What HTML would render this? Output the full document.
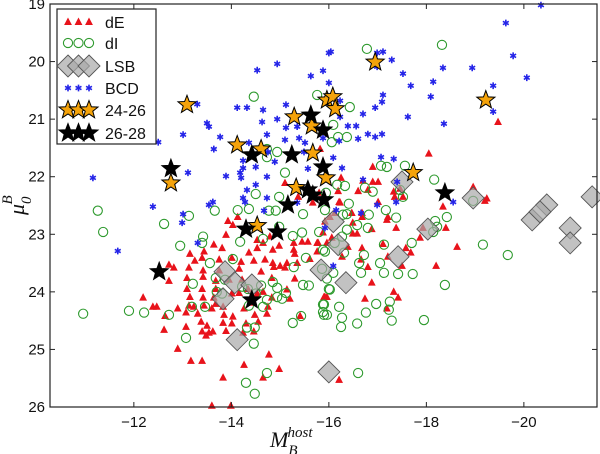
<!DOCTYPE html>
<html><head><meta charset="utf-8"><style>
html,body{margin:0;padding:0;background:#fff;}
svg{display:block;font-family:"Liberation Sans","DejaVu Sans",sans-serif;}
</style></head><body>
<svg id="chart" width="600" height="454" viewBox="0 0 600 454" xmlns="http://www.w3.org/2000/svg">
<g id="marks"></g>
<g id="axes"></g>
<g id="legend"></g>
</svg>
<script>
const xTicks=[-12,-14,-16,-18,-20];
const yTicks=[19,20,21,22,23,24,25,26];
const dE_x=[-14.13,-13.93,-14.03,-13.89,-14.53,-14.65,-14.79,-15.28,-15.28,-15.45,-15.57,-15.76,-15.88,-13.64,-13.81,-13.44,-13.15,-14.36,-14.53,-14.85,-14.98,-15.30,-15.76,-13.25,-13.40,-13.75,-14.01,-14.20,-14.46,-14.69,-14.85,-15.14,-15.35,-15.61,-12.72,-12.82,-13.13,-13.42,-13.75,-14.16,-14.61,-14.87,-15.00,-15.10,-12.72,-13.09,-13.42,-13.68,-13.95,-14.22,-14.83,-15.30,-13.09,-13.40,-13.68,-14.01,-14.16,-14.34,-14.65,-15.14,-12.19,-13.15,-13.42,-13.64,-14.53,-14.83,-15.20,-12.39,-12.47,-12.90,-13.13,-13.23,-13.44,-13.68,-13.83,-14.42,-14.75,-12.64,-13.07,-13.31,-13.60,-13.85,-14.03,-14.26,-14.48,-14.73,-15.41,-13.07,-13.38,-13.50,-13.83,-14.01,-14.30,-14.55,-12.62,-13.40,-13.54,-13.48,-13.62,-13.89,-14.24,-14.46,-12.90,-14.77,-13.17,-13.40,-14.26,-14.98,-13.83,-14.65,-13.60,-13.99,-15.92,-15.78,-16.23,-16.12,-16.02,-15.92,-16.47,-16.68,-16.49,-16.68,-17.21,-17.19,-17.38,-16.88,-16.49,-16.58,-15.96,-16.06,-16.39,-16.68,-17.11,-17.58,-17.68,-16.27,-17.21,-16.66,-16.80,-17.50,-16.88,-15.90,-15.96,-16.74,-17.33,-17.42,-17.19,-17.87,-17.93,-18.40,-18.34,-18.63,-18.20,-19.20,-16.21,-18.05,-16.90,-16.25,-16.70,-16.90,-17.01,-16.60,-16.19,-16.80,-17.33,-17.46,-17.52,-17.35,-15.82,-16.21,-17.01,-19.47,-18.96,-19.24,-15.10,-15.37,-15.80,-15.67];
const dE_y=[22.70,22.77,22.84,23.01,23.10,23.15,23.04,23.15,23.27,23.13,23.13,23.15,22.97,23.18,23.24,23.30,23.34,23.32,23.24,23.27,23.20,23.34,23.30,23.46,23.41,23.44,23.41,23.48,23.46,23.44,23.50,23.50,23.50,23.43,23.53,23.58,23.58,23.63,23.63,23.60,23.65,23.57,23.55,23.58,23.81,23.76,23.74,23.81,23.79,23.79,23.76,23.77,23.95,23.95,23.95,24.03,24.02,23.95,24.00,23.96,24.10,24.09,24.10,24.10,24.03,24.10,24.12,24.26,24.26,24.29,24.24,24.26,24.24,24.21,24.26,24.19,24.26,24.42,24.36,24.38,24.29,24.40,24.43,24.29,24.40,24.38,24.42,24.61,24.52,24.59,24.54,24.55,24.55,24.52,24.66,24.69,24.71,24.76,24.69,24.68,24.71,24.69,24.99,25.09,25.20,25.20,25.27,25.34,25.49,25.49,25.98,25.98,24.09,23.15,22.45,22.63,22.70,22.78,22.63,22.63,22.80,22.70,22.70,22.75,22.89,22.91,22.99,22.99,23.15,23.06,23.22,23.24,23.17,23.24,23.32,23.39,23.39,23.44,23.57,23.55,23.84,24.09,24.09,24.12,24.00,24.10,24.29,23.06,22.89,22.89,22.52,23.22,23.55,22.42,25.53,21.60,21.83,22.02,22.07,22.09,22.09,22.25,22.25,22.23,22.26,22.21,22.35,22.35,21.52,22.44,22.44,21.05,22.18,22.38,22.11,22.35,22.28,22.45];
const dI_x=[-11.26,-11.37,-12.62,-13.13,-13.66,-14.13,-14.36,-14.77,-14.91,-15.47,-14.98,-15.45,-15.80,-15.26,-13.42,-13.40,-12.95,-14.18,-14.65,-13.56,-14.03,-15.28,-15.53,-15.92,-15.86,-13.68,-13.87,-13.21,-14.22,-14.61,-14.85,-14.94,-15.12,-15.47,-15.59,-16.00,-14.34,-13.70,-13.81,-14.50,-14.73,-14.94,-15.04,-13.19,-13.46,-14.36,-10.96,-11.90,-12.21,-12.72,-14.65,-15.88,-15.88,-15.96,-15.43,-15.26,-14.32,-14.48,-13.07,-14.46,-14.73,-14.30,-14.48,-15.92,-16.41,-16.29,-16.37,-16.82,-17.38,-17.17,-16.58,-16.37,-16.80,-16.27,-16.12,-15.88,-16.31,-16.72,-16.62,-16.66,-17.05,-17.13,-17.42,-17.72,-17.13,-17.70,-18.18,-18.22,-18.14,-18.42,-19.16,-19.67,-18.38,-16.02,-15.96,-16.09,-15.90,-15.90,-16.21,-16.27,-16.25,-16.58,-16.76,-16.97,-17.25,-17.23,-17.29,-17.95,-16.60,-18.96,-16.78,-18.32,-16.43,-16.09,-16.19,-16.37,-16.06,-17.07,-17.19,-17.56,-18.16,-16.74,-16.90,-17.46,-17.52,-16.17,-16.33,-14.46,-14.73,-14.94,-14.73,-15.10,-14.50,-14.98,-15.94,-15.76];
const dI_y=[22.59,22.96,22.82,22.68,22.59,22.58,22.56,22.59,22.59,22.65,22.87,22.97,22.96,23.03,23.04,23.15,23.20,23.13,23.08,23.50,23.43,23.57,23.41,23.30,23.60,23.76,23.79,23.86,23.91,23.89,23.83,23.93,24.02,23.88,23.89,23.95,23.95,24.00,24.03,24.03,24.14,24.09,24.12,24.26,24.26,24.24,24.38,24.33,24.36,24.40,24.26,24.22,24.35,24.40,24.42,24.54,24.62,24.62,24.80,24.90,25.41,25.58,25.77,22.58,22.47,22.66,22.65,22.66,22.71,22.58,22.84,22.92,22.89,23.04,23.15,23.27,23.32,23.36,23.50,23.67,23.50,23.67,23.69,23.69,23.18,23.15,22.77,22.87,22.96,22.70,23.18,23.36,23.88,23.96,23.77,23.67,24.22,24.40,24.26,24.45,24.61,24.55,24.36,24.21,24.17,24.31,24.50,24.49,25.41,22.42,19.78,19.71,20.79,21.10,21.31,21.31,21.40,21.81,21.83,21.81,22.05,22.19,22.26,22.23,22.35,22.14,22.16,20.61,21.52,21.57,21.66,21.93,22.30,22.35,22.28,20.58];
const lsb_x=[-13.87,-14.07,-14.42,-13.83,-14.12,-15.84,-16.00,-16.09,-16.19,-16.35,-17.42,-18.03,-17.50,-18.96,-20.17,-20.47,-20.33,-20.95,-20.95,-21.40];
const lsb_y=[23.65,23.84,23.88,24.12,24.83,23.62,25.39,22.78,23.18,23.84,23.39,22.91,22.09,22.37,22.75,22.49,22.61,22.89,23.15,22.35];
const bcd_x=[-14.94,-14.53,-13.30,-14.12,-14.32,-14.65,-15.12,-13.50,-13.54,-13.01,-13.77,-12.50,-13.64,-14.36,-14.63,-14.94,-15.12,-15.35,-14.73,-15.10,-15.39,-15.51,-15.49,-14.75,-14.89,-14.24,-14.24,-14.50,-13.11,-13.89,-14.18,-14.20,-14.73,-15.57,-11.16,-14.50,-14.32,-14.24,-14.28,-13.62,-12.39,-14.73,-16.00,-15.88,-15.63,-16.00,-15.88,-20.35,-19.63,-19.78,-20.06,-16.04,-16.99,-17.11,-16.99,-17.29,-17.52,-17.68,-18.14,-18.34,-18.94,-19.37,-19.37,-18.09,-17.62,-18.36,-17.11,-17.09,-16.95,-16.70,-16.23,-16.23,-16.39,-16.56,-16.80,-16.95,-17.09,-16.60,-16.21,-16.09,-17.07,-17.33,-16.27,-16.70,-17.40,-17.38,-18.55,-16.99,-13.01,-12.99,-13.54,-13.31,-11.67,-14.67,-15.35,-15.92,-16.15,-16.66,-16.09];
const bcd_y=[20.04,20.15,20.74,20.80,20.80,20.84,20.75,21.07,21.13,21.27,21.31,21.40,21.52,21.41,21.05,21.00,21.15,21.13,21.27,21.36,21.33,21.41,21.57,21.57,21.74,21.72,21.85,21.83,21.93,21.99,21.93,22.02,22.00,21.86,22.02,22.14,22.23,22.37,22.44,22.44,22.52,22.37,19.85,20.16,20.25,20.37,21.33,19.02,19.33,19.90,20.28,19.83,19.85,19.83,20.09,19.97,20.21,20.42,20.35,20.11,20.11,20.42,20.87,20.61,20.96,21.08,20.58,20.70,20.80,20.91,20.68,20.96,21.12,21.12,21.26,21.31,21.26,21.34,21.38,21.67,21.66,21.69,21.85,22.05,22.09,22.44,22.44,22.49,22.65,22.80,22.49,23.15,23.29,22.59,22.45,22.89,22.58,22.63,23.55];
const s2426_x=[-13.09,-14.12,-14.61,-15.29,-15.65,-15.67,-12.76,-15.33,-15.94,-15.96,-16.08,-16.13,-16.95,-19.22,-17.73,-14.53];
const s2426_y=[20.75,21.45,21.52,20.96,21.12,21.59,22.11,22.19,22.02,20.67,20.61,20.82,20.01,20.67,21.93,22.85];
const s2628_x=[-12.52,-12.76,-14.30,-14.94,-14.42,-15.16,-14.42,-15.24,-15.63,-15.88,-15.57,-15.67,-15.90,-15.88,-18.38];
const s2628_y=[23.65,21.86,22.91,22.96,24.14,22.49,21.62,21.62,20.93,21.19,22.23,22.32,22.40,21.83,22.28];

const NS="http://www.w3.org/2000/svg";
const L=50,R=597,T=4,B=407;
const XMIN=-10.28,XMAX=-21.50,YMIN=19,YMAX=26;
function sx(v){return L+(v-XMIN)/(XMAX-XMIN)*(R-L);}
function sy(v){return T+(v-YMIN)/(YMAX-YMIN)*(B-T);}
function mk(tag,attrs,parent){const e=document.createElementNS(NS,tag);for(const k in attrs)e.setAttribute(k,attrs[k]);parent.appendChild(e);return e;}
const marks=document.getElementById('marks');
const axes=document.getElementById('axes');
const legend=document.getElementById('legend');

function tri(g,x,y){const s=3.8;return mk('polygon',{points:`${x},${y-s} ${x-s*0.9},${y+s*0.7} ${x+s*0.9},${y+s*0.7}`,fill:'#e8131b',stroke:'#e8131b','stroke-width':0.6},g);}
function circ(g,x,y){return mk('circle',{cx:x,cy:y,r:4.6,fill:'none',stroke:'#2e9a2e','stroke-width':1.1},g);}
function dia(g,x,y){const s=11;return mk('polygon',{points:`${x},${y-s} ${x+s},${y} ${x},${y+s} ${x-s},${y}`,fill:'#a8a8a8','fill-opacity':0.7,stroke:'#555','stroke-width':0.9},g);}
function ast(g,x,y){const s=3.4;let d='';for(let i=0;i<3;i++){const a=Math.PI/2+i*Math.PI/3;const dx=s*Math.cos(a),dy=s*Math.sin(a);d+=`M${x-dx},${y-dy}L${x+dx},${y+dy}`;}return mk('path',{d:d,stroke:'#2424e8','stroke-width':1.6,fill:'none'},g);}
function star(g,x,y,fill){const ro=9.5,ri=4;let p=[];for(let i=0;i<10;i++){const r=i%2?ri:ro;const a=-Math.PI/2+i*Math.PI/5;p.push((x+r*Math.cos(a)).toFixed(1)+','+(y+r*Math.sin(a)).toFixed(1));}return mk('polygon',{points:p.join(' '),fill:fill,stroke:'#000','stroke-width':1},g);}

const gE=mk('g',{},marks);
dE_x.forEach((v,i)=>{const e=tri(gE,sx(v),sy(dE_y[i]));

});
const gI=mk('g',{},marks);
dI_x.forEach((v,i)=>{const e=circ(gI,sx(v),sy(dI_y[i]));

});
const gL=mk('g',{},marks);
lsb_x.forEach((v,i)=>{const e=dia(gL,sx(v),sy(lsb_y[i]));

});
const gB=mk('g',{},marks);
bcd_x.forEach((v,i)=>{const e=ast(gB,sx(v),sy(bcd_y[i]));

});
const gS1=mk('g',{},marks);
s2426_x.forEach((v,i)=>{const e=star(gS1,sx(v),sy(s2426_y[i]),'#f5a30a');

});
const gS2=mk('g',{},marks);
s2628_x.forEach((v,i)=>{const e=star(gS2,sx(v),sy(s2628_y[i]),'#000');

});

const fr=mk('rect',{x:L,y:T,width:R-L,height:B-T,fill:'none',stroke:'#222','stroke-width':1.2},axes);


xTicks.forEach(v=>{const x=sx(v);
mk('line',{x1:x,y1:B,x2:x,y2:B-5,stroke:'#222'},axes);
mk('line',{x1:x,y1:T,x2:x,y2:T+5,stroke:'#222'},axes);
const t=mk('text',{x:x,y:427,'text-anchor':'middle','font-size':15,fill:'#111'},axes);
t.textContent='\u2212'+Math.abs(v);

});
yTicks.forEach(v=>{const y=sy(v);
mk('line',{x1:L,y1:y,x2:L+5,y2:y,stroke:'#222'},axes);
mk('line',{x1:R,y1:y,x2:R-5,y2:y,stroke:'#222'},axes);
const t=mk('text',{x:45,y:y+5,'text-anchor':'end','font-size':15,fill:'#111'},axes);
t.textContent=String(v);

});
const xt=mk('text',{x:270,y:447,'font-size':22,'font-style':'italic','font-family':'Liberation Serif, serif',fill:'#111'},axes);
xt.innerHTML='M<tspan dy="8" font-size="15">B</tspan><tspan dx="-10" dy="-18" font-size="15">host</tspan>';


const yt=mk('text',{x:0,y:0,'font-size':22,'font-style':'italic','font-family':'Liberation Serif, serif',fill:'#111',transform:'translate(24,215) rotate(-90)'},axes);
yt.innerHTML='\u03bc<tspan dy="7" font-size="15">0</tspan><tspan dx="-8" dy="-19" font-size="15">B</tspan>';



const lb=mk('rect',{x:57,y:9,width:99,height:135,fill:'#fff',stroke:'#222','stroke-width':1.2},legend);


const labels=['dE','dI','LSB','BCD','24-26','26-28'];
const rowsY=[22,43,66,88,110,133];
const fns=[(g,x,y)=>tri(g,x,y),(g,x,y)=>circ(g,x,y),(g,x,y)=>dia(g,x,y),(g,x,y)=>ast(g,x,y),(g,x,y)=>star(g,x,y,'#f5a30a'),(g,x,y)=>star(g,x,y,'#000')];
labels.forEach((lab,i)=>{const g=mk('g',{},legend);


[68,78.5,89].forEach(x=>fns[i](g,x,rowsY[i]));
const t=mk('text',{x:105,y:rowsY[i]+6,'font-size':16,fill:'#111'},g);t.textContent=lab;});
</script>
</body></html>
